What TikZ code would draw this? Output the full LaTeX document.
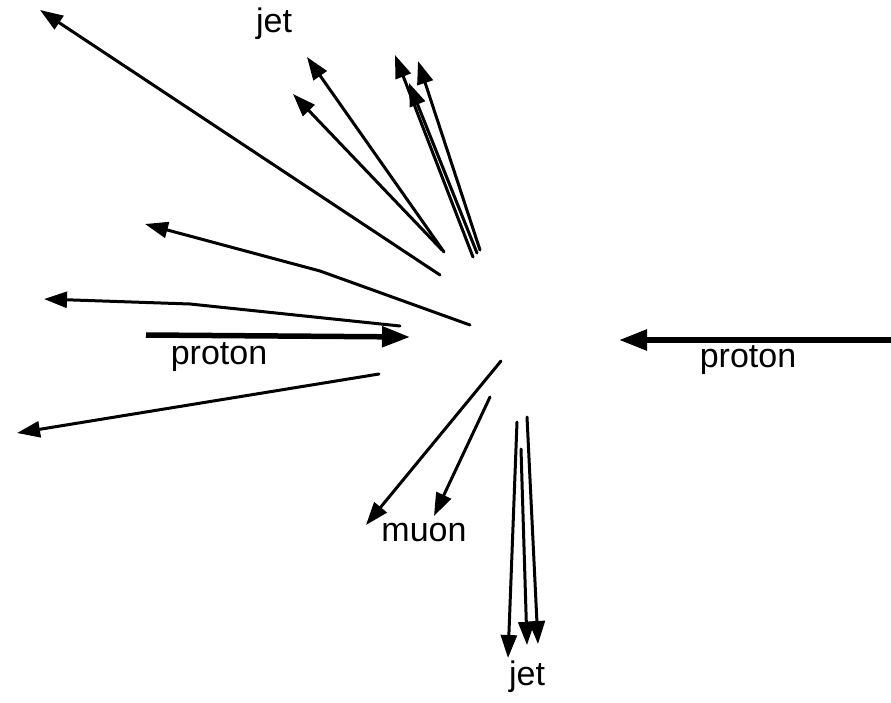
\documentclass[tikz,border=0pt]{standalone}
\usepackage{fontspec}
\setmainfont{Liberation Sans}
\usetikzlibrary{arrows.meta}
\tikzset{
  track/.style={line width=3pt, line cap=round, -{Triangle[length=23pt,width=16pt]}},
  beam/.style={line width=5.5pt, -{Triangle[length=28pt,width=20pt]}},
  lbl/.style={font=\fontsize{34}{34}\selectfont, inner sep=0pt}
}
\begin{document}
\begin{tikzpicture}[x=1pt,y=-1pt]
\useasboundingbox (0,0) rectangle (891,703);
% track end points (pixel grid, y downward)
\coordinate (a0) at (440,275); \coordinate (a1) at (40,10);
\coordinate (b0) at (444,252); \coordinate (b1) at (307,57);
\coordinate (c0) at (442,250); \coordinate (c1) at (293,94);
\coordinate (d0) at (473,257); \coordinate (d1) at (395,55);
\coordinate (e0) at (480,250); \coordinate (e1) at (418,61);
\coordinate (f0) at (477,253); \coordinate (f1) at (409,83);
\coordinate (g0) at (470,325); \coordinate (gm) at (320,271); \coordinate (g1) at (145,224);
\coordinate (h0) at (400,326); \coordinate (hm) at (190,304); \coordinate (h1) at (44,299);
\coordinate (i0) at (379,374); \coordinate (i1) at (17,433);
\coordinate (j0) at (501,361); \coordinate (j1) at (366,525);
\coordinate (k0) at (490,397); \coordinate (k1) at (434,516);
\coordinate (l0) at (517,422); \coordinate (l1) at (508,658);
\coordinate (m0) at (521,449); \coordinate (m1) at (527,645);
\coordinate (n0) at (527,417); \coordinate (n1) at (538,644);
\coordinate (p0) at (146,335); \coordinate (p1) at (410,337);
\coordinate (q0) at (895,340); \coordinate (q1) at (619,340);

% outgoing tracks
\draw[track] (a0) -- (a1);
\draw[track] (b0) -- (b1);
\draw[track] (c0) -- (c1);
\draw[track] (d0) -- (d1);
\draw[track] (e0) -- (e1);
\draw[track] (f0) -- (f1);
\draw[track] (g0) -- (gm) -- (g1);
\draw[track] (h0) -- (hm) -- (h1);
\draw[track] (i0) -- (i1);
\draw[track] (j0) -- (j1);
\draw[track] (k0) -- (k1);
\draw[track] (l0) -- (l1);
\draw[track] (m0) -- (m1);
\draw[track] (n0) -- (n1);

% incoming beams
\draw[beam] (p0) -- (p1);
\draw[beam] (q0) -- (q1);

% labels
\node[lbl] (jettop) at (274,24) {jet};
\node[lbl] (protonL) at (219,357) {proton};
\node[lbl] (protonR) at (748,360) {proton};
\node[lbl] (muon) at (424,533) {muon};
\node[lbl] (jetbot) at (527,677) {jet};
\end{tikzpicture}
\end{document}
